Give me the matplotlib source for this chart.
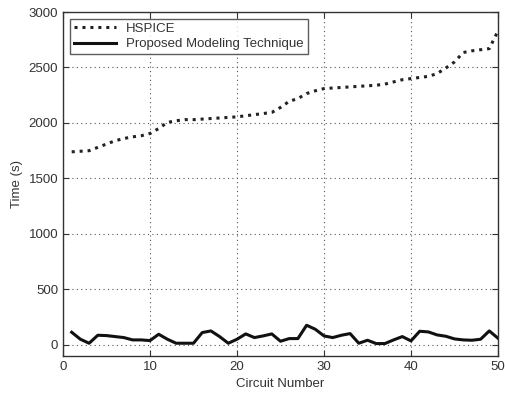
import matplotlib.pyplot as plt
import numpy as np

plt.rcParams['font.family'] = ['Liberation Sans', 'DejaVu Sans']

# Data
circuits = np.arange(1, 51)
hspice = [1740, 1745, 1750, 1780, 1810, 1840, 1860, 1875, 1885, 1905,
          1950, 2005, 2020, 2030, 2030, 2035, 2040, 2045, 2050, 2055,
          2065, 2075, 2085, 2095, 2140, 2195, 2220, 2265, 2290, 2310,
          2315, 2320, 2325, 2330, 2335, 2340, 2350, 2370, 2390, 2400,
          2410, 2420, 2445, 2495, 2550, 2635, 2650, 2660, 2670, 2830]
proposed = [114, 51, 15, 87, 84, 75, 66, 45, 45, 39,
            96, 51, 15, 15, 15, 111, 126, 75, 15, 51,
            99, 66, 81, 99, 33, 57, 57, 177, 141, 81,
            66, 87, 102, 15, 42, 12, 12, 45, 75, 36,
            123, 117, 90, 78, 54, 45, 42, 51, 126, 60]

fig = plt.figure(figsize=(5.05, 3.95), dpi=100)
ax = fig.add_axes([63 / 505, 1 - 356 / 395, 435 / 505, 344 / 395])

ax.plot(circuits, hspice, color='#222222', linestyle=(0, (1, 1.6)), linewidth=2.2,
        label='HSPICE')
ax.plot(circuits, proposed, color='#111111', linestyle='-', linewidth=2.2,
        label='Proposed Modeling Technique')

ax.set_xlim(0, 50)
ax.set_ylim(-100, 3000)
ax.set_xticks(np.arange(0, 51, 10))
ax.set_yticks(np.arange(0, 3001, 500))
ax.grid(True, color='#555555', linestyle=(0, (1, 3)), linewidth=0.8)
ax.tick_params(direction='in', top=True, right=True, labelsize=9.5,
               colors='#333333', length=4)
for s in ax.spines.values():
    s.set_color('#333333')
    s.set_linewidth(1.0)

ax.set_xlabel('Circuit Number', fontsize=9.5, color='#333333', labelpad=4)
ax.set_ylabel('Time (s)', fontsize=9.5, color='#333333', labelpad=4)

leg = ax.legend(loc='upper left', fontsize=9.5, frameon=True, fancybox=False,
                edgecolor='#333333', borderaxespad=0.5, handlelength=3.2,
                labelspacing=0.25, borderpad=0.3)
leg.get_frame().set_linewidth(1.0)
for t in leg.get_texts():
    t.set_color('#333333')

plt.savefig('out.png', format='png', dpi=100)
